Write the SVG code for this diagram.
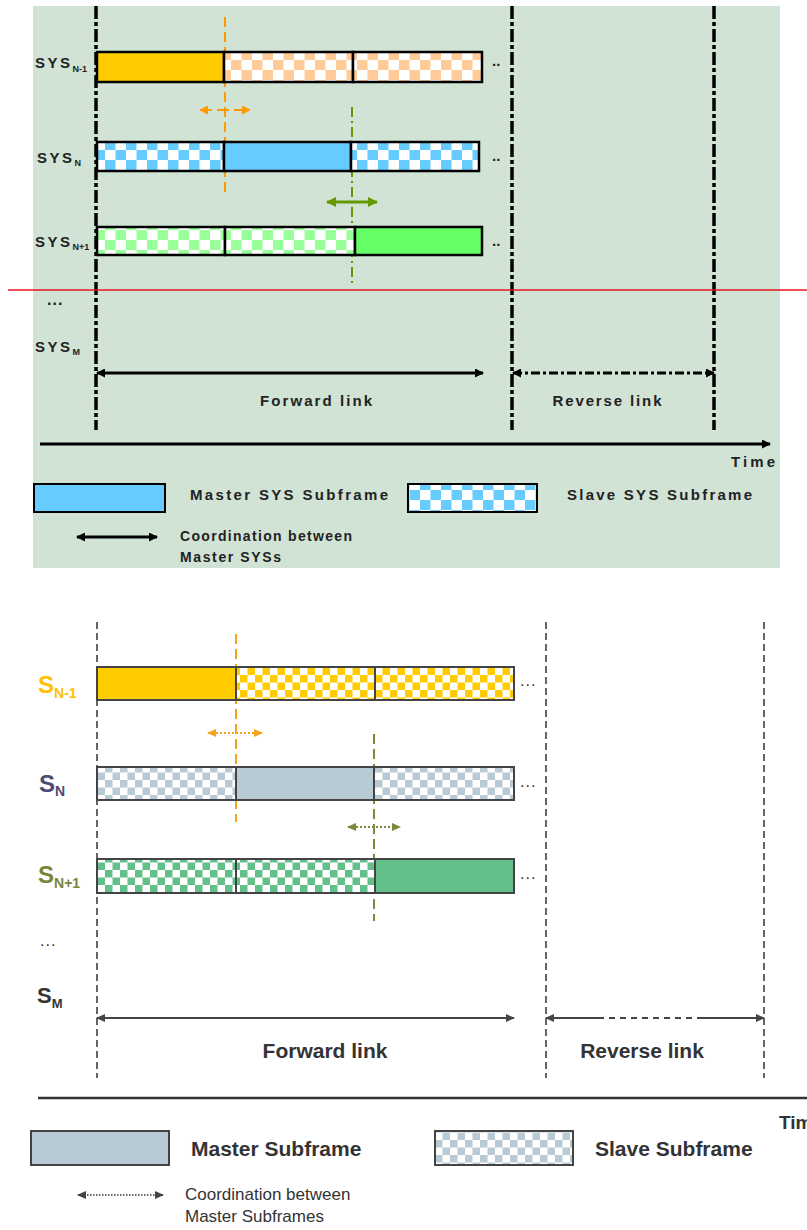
<svg xmlns="http://www.w3.org/2000/svg" width="807" height="1230" viewBox="0 0 807 1230">
<style>
.tt{font-family:"Liberation Sans",Arial,sans-serif;font-weight:bold;fill:#222;}
.bt{font-family:"Liberation Sans",Arial,sans-serif;font-weight:bold;fill:#333;}
.br{font-family:"Liberation Sans",Arial,sans-serif;fill:#333;}
.tbar{stroke:#000;stroke-width:2.5;}
.bbar{stroke:#444;stroke-width:2;}
.tv{stroke:#000;stroke-width:3.5;stroke-dasharray:13 3 4 3;fill:none;}
.bv{stroke:#333;stroke-width:1.5;stroke-dasharray:7 4;fill:none;}
</style>
<defs>
<pattern id="tPeach" width="21" height="20" patternUnits="userSpaceOnUse"><rect width="21" height="20" fill="#fff"/><rect width="10.5" height="10" fill="#FFCC99"/><rect x="10.5" y="10" width="10.5" height="10" fill="#FFCC99"/></pattern>
<pattern id="tBlue" width="21" height="20" patternUnits="userSpaceOnUse"><rect width="21" height="20" fill="#fff"/><rect width="10.5" height="10" fill="#66CCFF"/><rect x="10.5" y="10" width="10.5" height="10" fill="#66CCFF"/></pattern>
<pattern id="tGreen" width="21" height="20" patternUnits="userSpaceOnUse"><rect width="21" height="20" fill="#fff"/><rect width="10.5" height="10" fill="#99FF99"/><rect x="10.5" y="10" width="10.5" height="10" fill="#99FF99"/></pattern>
<pattern id="bYel" width="15" height="15" patternUnits="userSpaceOnUse"><rect width="15" height="15" fill="#fff"/><rect width="7.5" height="7.5" fill="#FFCC00"/><rect x="7.5" y="7.5" width="7.5" height="7.5" fill="#FFCC00"/></pattern>
<pattern id="bGray" width="15" height="15" patternUnits="userSpaceOnUse"><rect width="15" height="15" fill="#fff"/><rect width="7.5" height="7.5" fill="#B8CAD4"/><rect x="7.5" y="7.5" width="7.5" height="7.5" fill="#B8CAD4"/></pattern>
<pattern id="bGreen" width="15" height="15" patternUnits="userSpaceOnUse"><rect width="15" height="15" fill="#fff"/><rect width="7.5" height="7.5" fill="#63C08A"/><rect x="7.5" y="7.5" width="7.5" height="7.5" fill="#63C08A"/></pattern>
<marker id="mT" markerUnits="userSpaceOnUse" markerWidth="9" markerHeight="9" refX="8" refY="4.5" orient="auto-start-reverse"><path d="M0,0 L9,4.5 L0,9 z" fill="#000"/></marker>
<marker id="mTo" markerUnits="userSpaceOnUse" markerWidth="9" markerHeight="9" refX="8" refY="4.5" orient="auto-start-reverse"><path d="M0,0 L9,4.5 L0,9 z" fill="#FF9900"/></marker>
<marker id="mTg" markerUnits="userSpaceOnUse" markerWidth="10" markerHeight="10" refX="9" refY="5" orient="auto-start-reverse"><path d="M0,0 L10,5 L0,10 z" fill="#669900"/></marker>
<marker id="mB" markerUnits="userSpaceOnUse" markerWidth="9" markerHeight="8" refX="8" refY="4" orient="auto-start-reverse"><path d="M0,0 L9,4 L0,8 z" fill="#444"/></marker>
<marker id="mBo" markerUnits="userSpaceOnUse" markerWidth="9" markerHeight="8" refX="8" refY="4" orient="auto-start-reverse"><path d="M0,0 L9,4 L0,8 z" fill="#F7A21B"/></marker>
<marker id="mBg" markerUnits="userSpaceOnUse" markerWidth="9" markerHeight="8" refX="8" refY="4" orient="auto-start-reverse"><path d="M0,0 L9,4 L0,8 z" fill="#7A8B3A"/></marker>
</defs>
<rect width="807" height="1230" fill="#fff"/>

<!-- ===== Top figure ===== -->
<rect id="top-bg" x="33" y="6" width="747" height="562" fill="#D1E3D4"/>

<g id="top-connectors">
<line class="tv" x1="96" y1="6" x2="96" y2="430"/>
<line class="tv" x1="512" y1="6" x2="512" y2="430"/>
<line class="tv" x1="714" y1="6" x2="714" y2="430"/>
<line x1="225" y1="17" x2="225" y2="192" stroke="#FF9900" stroke-width="2" stroke-dasharray="10 5"/>
<line x1="352" y1="107" x2="352" y2="283" stroke="#669900" stroke-width="2" stroke-dasharray="10 4 2 4"/>
<line x1="200" y1="110" x2="250" y2="110" stroke="#FF9900" stroke-width="2" stroke-dasharray="12 5" marker-start="url(#mTo)" marker-end="url(#mTo)"/>
<line x1="327" y1="202" x2="377" y2="202" stroke="#669900" stroke-width="3" marker-start="url(#mTg)" marker-end="url(#mTg)"/>
<line x1="97" y1="373" x2="483" y2="373" stroke="#000" stroke-width="3" marker-start="url(#mT)" marker-end="url(#mT)"/>
<line x1="513" y1="373" x2="714" y2="373" stroke="#000" stroke-width="3" stroke-dasharray="9 3 3 3" marker-start="url(#mT)" marker-end="url(#mT)"/>
<line x1="40" y1="444" x2="770" y2="444" stroke="#000" stroke-width="3" marker-end="url(#mT)"/>
</g>

<g id="top-sysN-1">
<rect class="tbar" x="97" y="52" width="127" height="30" fill="#FFCC00"/>
<rect class="tbar" x="224" y="52" width="129" height="30" fill="url(#tPeach)"/>
<rect class="tbar" x="353" y="52" width="129" height="30" fill="url(#tPeach)"/>
<text class="tt" x="35" y="68" font-size="15" letter-spacing="2.5">SYS<tspan font-size="9" dy="4" letter-spacing="0">N-1</tspan></text>
<text class="tt" x="492" y="66" font-size="15">..</text>
</g>
<g id="top-sysN">
<rect class="tbar" x="97" y="142" width="127" height="29" fill="url(#tBlue)"/>
<rect class="tbar" x="224" y="142" width="127" height="29" fill="#66CCFF"/>
<rect class="tbar" x="351" y="142" width="128" height="29" fill="url(#tBlue)"/>
<text class="tt" x="37" y="163" font-size="15" letter-spacing="2.5">SYS<tspan font-size="9" dy="3" letter-spacing="0">N</tspan></text>
<text class="tt" x="492" y="161" font-size="15">..</text>
</g>
<g id="top-sysN+1">
<rect class="tbar" x="97" y="227" width="128" height="28" fill="url(#tGreen)"/>
<rect class="tbar" x="225" y="227" width="130" height="28" fill="url(#tGreen)"/>
<rect class="tbar" x="355" y="227" width="127" height="28" fill="#66FF66"/>
<text class="tt" x="35" y="247" font-size="15" letter-spacing="2.5">SYS<tspan font-size="9" dy="3" letter-spacing="0">N+1</tspan></text>
<text class="tt" x="492" y="246" font-size="15">..</text>
</g>
<g id="top-dots"><text class="tt" x="47" y="305" font-size="16" letter-spacing="1">...</text></g>
<g id="top-sysM"><text class="tt" x="35" y="352" font-size="15" letter-spacing="2.5">SYS<tspan font-size="9" dy="3" letter-spacing="0">M</tspan></text></g>
<g id="top-forward"><text class="tt" x="316" y="406" font-size="15" text-anchor="middle" textLength="112">Forward link</text></g>
<g id="top-reverse"><text class="tt" x="607" y="406" font-size="15" text-anchor="middle" textLength="109">Reverse link</text></g>
<g id="top-time"><text class="tt" x="731" y="467" font-size="15" textLength="44">Time</text></g>
<g id="top-legend-master">
<rect x="34" y="484" width="131" height="28" fill="#66CCFF" stroke="#000" stroke-width="2"/>
<text class="tt" x="190" y="500" font-size="15" textLength="198">Master SYS Subframe</text>
</g>
<g id="top-legend-slave">
<rect x="408" y="484" width="129" height="28" fill="url(#tBlue)" stroke="#000" stroke-width="2"/>
<text class="tt" x="567" y="500" font-size="15" textLength="185">Slave SYS Subframe</text>
</g>
<g id="top-legend-coord">
<line x1="77" y1="537" x2="157" y2="537" stroke="#000" stroke-width="3" marker-start="url(#mT)" marker-end="url(#mT)"/>
<text class="tt" x="180" y="541" font-size="14" textLength="172">Coordination between</text>
<text class="tt" x="180" y="562" font-size="14" textLength="101">Master SYSs</text>
</g>

<line id="red-line" x1="8" y1="290" x2="807" y2="290" stroke="#E8141B" stroke-width="1.5"/>

<!-- ===== Bottom figure ===== -->
<g id="bottom-connectors">
<line class="bv" x1="97" y1="622" x2="97" y2="1078"/>
<line class="bv" x1="546" y1="622" x2="546" y2="1078"/>
<line class="bv" x1="764" y1="622" x2="764" y2="1078"/>
<line x1="236" y1="634" x2="236" y2="822" stroke="#F7A21B" stroke-width="2" stroke-dasharray="10 5"/>
<line x1="374" y1="734" x2="374" y2="921" stroke="#7A8B3A" stroke-width="2" stroke-dasharray="10 5"/>
<line x1="208" y1="733" x2="262" y2="733" stroke="#F7A21B" stroke-width="2" stroke-dasharray="2 2" marker-start="url(#mBo)" marker-end="url(#mBo)"/>
<line x1="348" y1="827" x2="400" y2="827" stroke="#7A8B3A" stroke-width="2" stroke-dasharray="2 2" marker-start="url(#mBg)" marker-end="url(#mBg)"/>
<line x1="97" y1="1018" x2="514" y2="1018" stroke="#444" stroke-width="2" marker-start="url(#mB)" marker-end="url(#mB)"/>
<line x1="546" y1="1018" x2="598" y2="1018" stroke="#444" stroke-width="2" marker-start="url(#mB)"/>
<line x1="598" y1="1018" x2="698" y2="1018" stroke="#444" stroke-width="2" stroke-dasharray="6 5"/>
<line x1="698" y1="1018" x2="764" y2="1018" stroke="#444" stroke-width="2" marker-end="url(#mB)"/>
<line x1="38" y1="1098" x2="807" y2="1098" stroke="#333" stroke-width="2.5"/>
</g>

<g id="bottom-sN-1">
<rect class="bbar" x="97" y="667" width="139" height="33" fill="#FFCC00"/>
<rect class="bbar" x="236" y="667" width="139" height="33" fill="url(#bYel)"/>
<rect class="bbar" x="375" y="667" width="139" height="33" fill="url(#bYel)"/>
<text x="38" y="693" font-family="Liberation Sans, Arial, sans-serif" font-weight="bold" font-size="24" fill="#FFC000">S<tspan font-size="14" dy="5">N-1</tspan></text>
<text class="br" x="520" y="686" font-size="16" letter-spacing="1">...</text>
</g>
<g id="bottom-sN">
<rect class="bbar" x="97" y="767" width="139" height="33" fill="url(#bGray)"/>
<rect class="bbar" x="236" y="767" width="138" height="33" fill="#B8CAD4"/>
<rect class="bbar" x="374" y="767" width="140" height="33" fill="url(#bGray)"/>
<text x="39" y="792" font-family="Liberation Sans, Arial, sans-serif" font-weight="bold" font-size="24" fill="#4D4A7A">S<tspan font-size="14" dy="4">N</tspan></text>
<text class="br" x="520" y="787" font-size="16" letter-spacing="1">...</text>
</g>
<g id="bottom-sN+1">
<rect class="bbar" x="97" y="859" width="139" height="34" fill="url(#bGreen)"/>
<rect class="bbar" x="236" y="859" width="139" height="34" fill="url(#bGreen)"/>
<rect class="bbar" x="375" y="859" width="139" height="34" fill="#63C08A"/>
<text x="38" y="883" font-family="Liberation Sans, Arial, sans-serif" font-weight="bold" font-size="24" fill="#7C8439">S<tspan font-size="14" dy="5">N+1</tspan></text>
<text class="br" x="520" y="879" font-size="16" letter-spacing="1">...</text>
</g>
<g id="bottom-dots"><text class="br" x="40" y="946" font-size="16" letter-spacing="1">...</text></g>
<g id="bottom-sM"><text x="37" y="1003" font-family="Liberation Sans, Arial, sans-serif" font-weight="bold" font-size="22" fill="#333">S<tspan font-size="13" dy="5">M</tspan></text></g>
<g id="bottom-forward"><text class="bt" x="325" y="1058" font-size="21" text-anchor="middle">Forward link</text></g>
<g id="bottom-reverse"><text class="bt" x="642" y="1058" font-size="21" text-anchor="middle">Reverse link</text></g>
<g id="bottom-time"><text class="bt" x="779" y="1129" font-size="19">Time</text></g>
<g id="bottom-legend-master">
<rect x="31" y="1131" width="138" height="34" fill="#B8CAD4" stroke="#444" stroke-width="2"/>
<text class="bt" x="191" y="1156" font-size="21">Master Subframe</text>
</g>
<g id="bottom-legend-slave">
<rect x="435" y="1131" width="138" height="34" fill="url(#bGray)" stroke="#444" stroke-width="2"/>
<text class="bt" x="595" y="1156" font-size="21">Slave Subframe</text>
</g>
<g id="bottom-legend-coord">
<line x1="78" y1="1195" x2="163" y2="1195" stroke="#333" stroke-width="1.5" stroke-dasharray="1.5 1.5" marker-start="url(#mB)" marker-end="url(#mB)"/>
<text class="br" x="185" y="1200" font-size="17">Coordination between</text>
<text class="br" x="185" y="1222" font-size="17">Master Subframes</text>
</g>
</svg>
